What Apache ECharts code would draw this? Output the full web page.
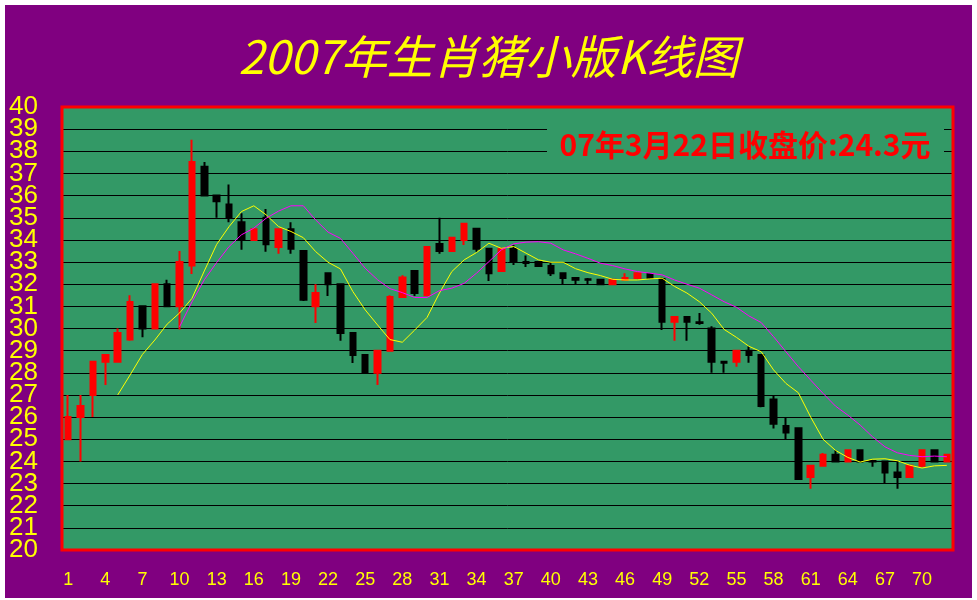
<!DOCTYPE html>
<html>
<head>
<meta charset="utf-8">
<script src="https://cdn.jsdelivr.net/npm/echarts@6/dist/echarts.min.js"></script>
<style>
html,body{margin:0;padding:0;background:#ffffff;width:977px;height:600px;overflow:hidden;}
#chart{position:absolute;left:5px;top:5px;width:967px;height:593px;}
</style>
</head>
<body>
<div id="chart"></div>
<script>
const titleText = '2007年生肖猪小版K线图';
const noteText = '07年3月22日收盘价:24.3元';
const categories = ['1','2','3','4','5','6','7','8','9','10','11','12','13','14','15','16','17','18','19','20','21','22','23','24','25','26','27','28','29','30','31','32','33','34','35','36','37','38','39','40','41','42','43','44','45','46','47','48','49','50','51','52','53','54','55','56','57','58','59','60','61','62','63','64','65','66','67','68','69','70','71','72'];
const openPrices = [25,26,27,28.5,28.5,29.5,31,30,32,31, 32.84,37.3,36,35.6,34.8,34,35,33.68,34.48,33.5, 31,32.5,32,29.8,28.8,28,29,31.42,32.6,31.5, 33.82,33.5,34,34.5,33.6,32.6,33.6,33.0,33,32.82, 32.5,32.28,32.22,32.2,32,32.2,32.28,32.46,32.24,30.3, 30.52,30.28,30,28.5,28.5,29,28.8,26.8,25.6,25.5, 23.3,23.8,24.3,24,24.5,24.02,24,23.5,23.3,23.8, 24.5,24];
const closePrices = [26,26.5,28.5,28.8,29.8,31.2,30,32,31,33, 37.52,36,35.75,35,34,34.48,33.8,34.48,33.6,31.3, 31.6,32,29.8,28.8,28,29,31.42,32.3,31.6,33.68, 33.5,34.1,34.73,33.6,32.5,33.6,33,32.96,32.82,32.5, 32.28,32.2,32.2,32,32.2,32.28,32.5,32.28,30.3,30.52, 30.3,30.25,28.5,28.45,29,28.8,26.5,25.7,25.3,23.2, 23.8,24.3,24,24.5,24,24,23.5,23.3,23.8,24.5, 24,24.3];
const lowPrices = [25,24,26,27.45,28.45,29.45,29.6,29.95,31,29.95, 32.46,36,35,34.8,33.55,34,33.46,33.37,33.37,31.24, 30.25,31.47,29.45,28.44,28,27.45,29,31.38,31.47,31.47, 33.37,33.46,33.77,33.46,32.15,32.55,32.87,32.78,32.78,32.37, 32,32,32,32,32,32.2,32.24,32.24,29.93,29.45, 29.45,30.17,28,28,28.27,28.45,26.45,25.48,25,23.17, 22.77,23.76,24,24,24,23.76,23,22.77,23.25,23.74, 24,24];
const highPrices = [27,27,28.5,28.8,30,31.5,31,32,32.2,33.5, 38.52,37.52,36,36.5,35.2,34.48,35.4,34.48,34.8,33.5, 32,32.5,32,29.8,28.8,29,31.5,32.4,32.6,33.68, 35,34.1,34.73,34.5,33.6,33.6,33.77,33.3,33,33, 32.5,32.28,32.28,32.2,32.2,32.5,32.5,32.5,32.3,30.52, 30.52,30.7,30.1,28.5,29,29.2,28.8,27,26,25.5, 23.8,24.38,24.5,24.5,24.5,24.02,24,24,23.8,24.5, 24.5,24.3];
const ma5 = [null,null,null,null,27.0,27.9,28.83,29.48,30.2,30.7, 31.36,32.6,33.8,34.6,35.28,35.54,35.13,34.6,34.38,34.1, 33.47,32.99,32.69,31.67,30.84,30.16,29.5,29.38,29.93,30.5, 31.6,32.57,33.1,33.43,33.85,33.62,33.7,33.4,33.1,32.99, 32.99,32.7,32.52,32.39,32.22,32.19,32.19,32.24,32.27,31.9, 31.6,31.21,30.69,29.96,29.6,29.2,28.95,28.13,27.52,27.1, 26.0,25.0,24.5,24.18,23.97,24.1,24.12,24.03,23.83,23.7, 23.8,23.82];
const ma10 = [null,null,null,null,null,null,null,null,null,30.08, 31.2,32.2,32.98,33.7,34.23,34.53,34.98,35.3,35.54,35.54, 34.9,34.35,34.07,33.4,32.72,32.2,31.8,31.62,31.4,31.4, 31.71,31.82,32.04,32.5,33.02,33.55,33.82,33.9,33.92,33.85, 33.55,33.37,33.17,32.95,32.84,32.69,32.57,32.5,32.42,32.19, 32.0,31.82,31.52,31.21,30.96,30.57,30.27,29.63,28.95,28.28, 27.67,27.07,26.5,26.09,25.64,25.11,24.66,24.39,24.27,24.21, 24.24,24.21];
const yMin = 20, yMax = 40, yStep = 1;

const candleData = categories.map((c, i) => [openPrices[i], closePrices[i], lowPrices[i], highPrices[i]]);

const chart = echarts.init(document.getElementById('chart'), null, {renderer: 'canvas'});
const G = {left: 57, top: 102, width: 891, height: 443};
const unitPx = G.height / (yMax - yMin);
const yLabelStyle = {color: '#ffff00', fontSize: 26, fontFamily: 'Liberation Sans', margin: 24, showMinLabel: true, showMaxLabel: true};
chart.setOption({
  animation: false,
  backgroundColor: '#800080',
  grid: [
    {left: G.left, top: G.top, width: G.width, height: G.height, show: true, backgroundColor: '#339966', borderWidth: 0},
    {left: G.left, top: G.top + unitPx, width: G.width, height: G.height - 2 * unitPx, show: false}
  ],
  xAxis: [
    {
      type: 'category', data: categories, boundaryGap: true, gridIndex: 0,
      axisLine: {show: false}, axisTick: {show: false}, splitLine: {show: false},
      axisLabel: {interval: 2, color: '#ffff00', fontSize: 18, fontFamily: 'Liberation Sans', margin: 21}
    },
    {type: 'category', data: categories, gridIndex: 1, show: false}
  ],
  yAxis: [
    {
      type: 'value', min: yMin, max: yMax, interval: yStep, gridIndex: 0,
      axisLine: {show: false}, axisTick: {show: false}, axisLabel: {show: false},
      splitLine: {show: true, lineStyle: {color: '#000000', width: 1}}
    },
    {
      type: 'value', min: yMin, max: yMax, interval: 2 * yStep, gridIndex: 0,
      position: 'left', axisLine: {show: false}, axisTick: {show: false}, splitLine: {show: false},
      axisLabel: yLabelStyle
    },
    {
      type: 'value', min: yMin + yStep, max: yMax - yStep, interval: 2 * yStep, gridIndex: 1,
      position: 'left', axisLine: {show: false}, axisTick: {show: false}, splitLine: {show: false},
      axisLabel: yLabelStyle
    }
  ],
  graphic: [
    {type: 'rect', z: 50, shape: {x: 542, y: 117, width: 397, height: 43}, style: {fill: '#339966'}},
    {type: 'text', z: 51, x: 740, y: 140, style: {text: noteText, fill: '#ff0000', font: 'bold 30px "Noto Sans CJK SC"', textAlign: 'center', textVerticalAlign: 'middle'}},
    {type: 'text', z: 51, x: 483.5, y: 52, style: {text: titleText, fill: '#ffff00', font: 'italic 46px "Noto Sans CJK SC"', textAlign: 'center', textVerticalAlign: 'middle'}},
    {type: 'rect', z: 60, shape: {x: G.left, y: G.top, width: G.width, height: G.height}, style: {fill: 'none', stroke: '#ff0000', lineWidth: 3}}
  ],
  series: [
    {
      type: 'candlestick', data: candleData, barWidth: 6, xAxisIndex: 0, yAxisIndex: 0,
      itemStyle: {color: '#ff0000', color0: '#000000', borderColor: '#ff0000', borderColor0: '#000000', borderColorDoji: '#000000', borderWidth: 2}
    },
    {type: 'line', data: ma5, xAxisIndex: 0, yAxisIndex: 0, showSymbol: false, symbol: 'none', lineStyle: {color: '#ffff00', width: 1}, z: 5},
    {type: 'line', data: ma10, xAxisIndex: 0, yAxisIndex: 0, showSymbol: false, symbol: 'none', lineStyle: {color: '#ff00ff', width: 1}, z: 5}
  ]
});
</script>
</body>
</html>
